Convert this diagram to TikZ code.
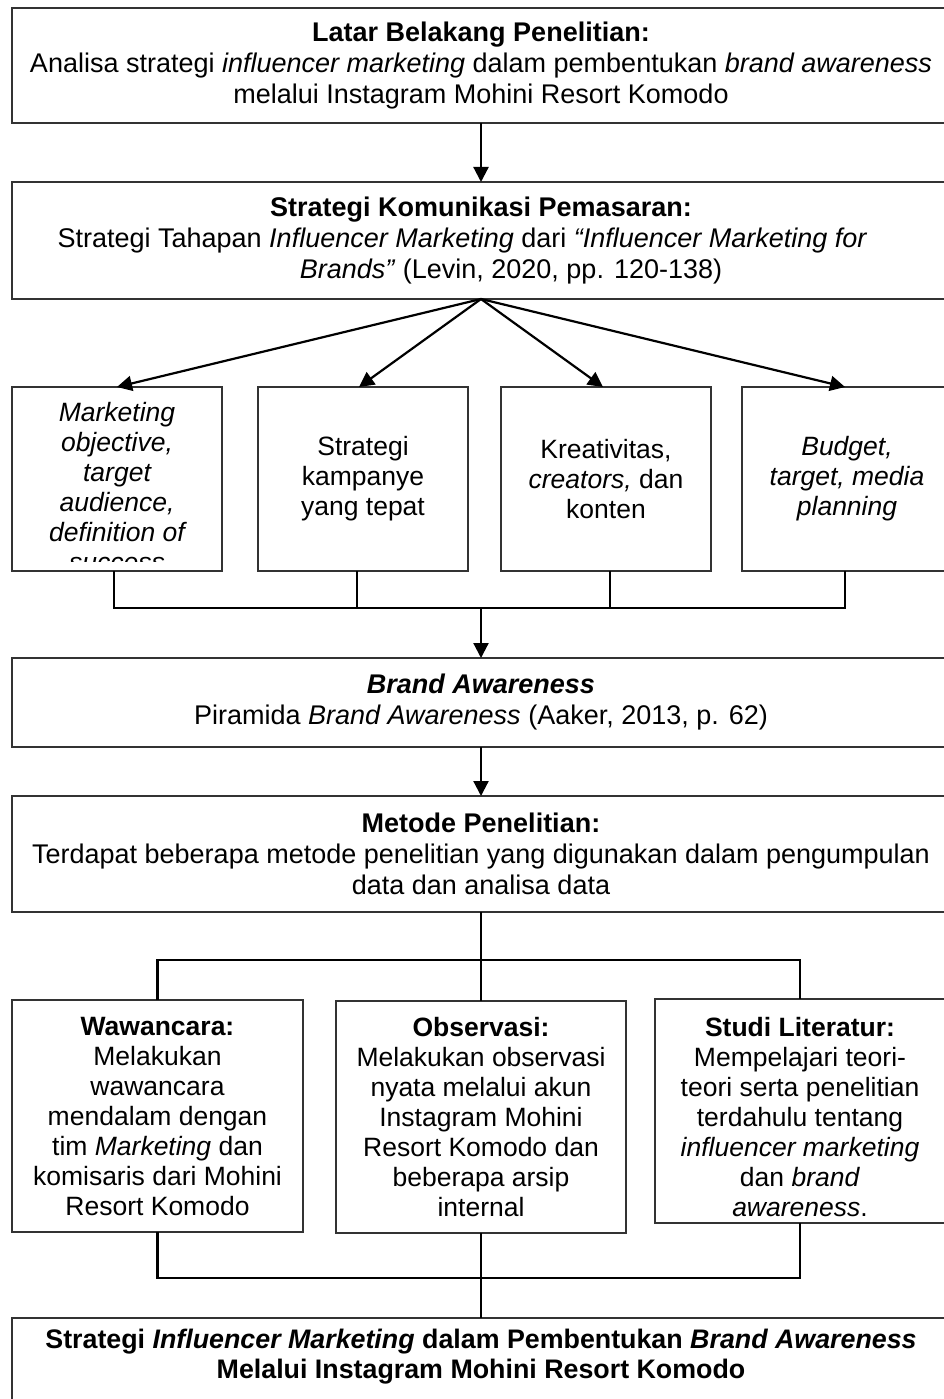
\documentclass[tikz,border=0pt]{standalone}
\usepackage{fontspec}
\setmainfont{Liberation Sans}
\usetikzlibrary{arrows.meta}
\begin{document}
\begin{tikzpicture}[x=1pt,y=-1pt,
  box/.style={draw=black!80, line width=1.3pt, inner sep=0pt, outer sep=0pt, align=center,
    font=\fontsize{26.5}{30}\selectfont},
  widebox/.style={box, draw=none, minimum width=938, font=\fontsize{27}{31}\selectfont},
  border/.style={draw=black!80, line width=1.3pt},
  txt/.style={inner sep=0pt, outer sep=0pt, align=center, font=\fontsize{26.5}{30}\selectfont},
  conn/.style={line width=2.2pt, black},
  arr/.style={conn, -{Triangle[width=15pt,length=15pt]}}
]
\useasboundingbox (0,0) rectangle (944,1399);
\clip (0,0) rectangle (944,1399);

% boxes
\node[widebox, minimum height=115] (b1) at (481,65.5)
  {\textbf{Latar Belakang Penelitian:}\\
   Analisa strategi \textit{influencer marketing} dalam pembentukan \textit{brand awareness}\\
   melalui Instagram Mohini Resort Komodo};

\node[widebox, minimum height=117] (b2) at (481,240.5)
  {\textbf{Strategi Komunikasi Pemasaran:}\\
   Strategi Tahapan \textit{Influencer Marketing} dari \textit{“Influencer Marketing for}\mbox{}\hspace{37pt}\mbox{}\\
   \mbox{}\hspace{60pt}\textit{Brands”} (Levin, 2020, pp. 120-138)};

\node[box, minimum width=210, minimum height=184] (ba) at (117,479) {};
\begin{scope}
  \clip (13,388) rectangle (221,561);
  \node[txt, anchor=north, font=\fontsize{26.5}{30}\selectfont\itshape] (atext) at (117,402)
    {Marketing\\objective,\\target\\audience,\\definition of\\success};
\end{scope}
\node[box, minimum width=210, minimum height=184] (bb) at (363,479)
  {Strategi\\kampanye\\yang tepat};
\node[box, minimum width=210, minimum height=184] (bc) at (606,479)
  {Kreativitas,\\\textit{creators,} dan\\konten};
\node[box, draw=none, minimum width=210, minimum height=184, font=\fontsize{26.5}{30}\selectfont\itshape] (bd) at (847,479)
  {Budget,\\target, media\\planning};

\node[widebox, minimum height=89] (b3) at (481,702.5)
  {\textbf{\textit{Brand Awareness}}\\
   Piramida \textit{Brand Awareness} (Aaker, 2013, p. 62)};

\node[widebox, minimum height=116] (b4) at (481,854)
  {\textbf{Metode Penelitian:}\\
   Terdapat beberapa metode penelitian yang digunakan dalam pengumpulan\\
   data dan analisa data};

\node[box, minimum width=291, minimum height=232] (waw) at (157.5,1116)
  {\textbf{Wawancara:}\\Melakukan\\wawancara\\mendalam dengan\\tim \textit{Marketing} dan\\komisaris dari Mohini\\Resort Komodo};
\node[box, minimum width=290, minimum height=232] (obs) at (481,1117)
  {\textbf{Observasi:}\\Melakukan observasi\\nyata melalui akun\\Instagram Mohini\\Resort Komodo dan\\beberapa arsip\\internal};
\node[box, draw=none, minimum width=290, minimum height=224] (stu) at (800,1111)
  {\rule{0pt}{31.5pt}\textbf{Studi Literatur:}\\Mempelajari teori-\\teori serta penelitian\\terdahulu tentang\\\textit{influencer marketing}\\dan \textit{brand}\\\textit{awareness}.};

\node[widebox, minimum height=112] (fin) at (481,1374) {};
\node[txt, font=\fontsize{26.8}{30}\selectfont] (fintext) at (481,1357)
  {\textbf{Strategi \textit{Influencer Marketing} dalam Pembentukan \textit{Brand Awareness}}\\
   \textbf{Melalui Instagram Mohini Resort Komodo}};

% borders of boxes that run past the right edge (open on the right)
\foreach \n in {b1,b2,b3,b4,bd,stu}
  \draw[border] (\n.north -| 944,0) -- (\n.north west) -- (\n.south west) -- (\n.south -| 944,0);
\draw[border] (fin.north -| 944,0) -- (fin.north west) -- (fin.south west);

% connectors
\draw[arr] (b1.south) -- (b2.north);
\draw[arr] (b2.south) -- (ba.north);
\draw[arr] (b2.south) -- ([xshift=-4pt]bb.north);
\draw[arr] (b2.south) -- ([xshift=-3pt]bc.north);
\draw[arr] (b2.south) -- ([xshift=-2pt]bd.north);

\coordinate (j1) at (481,608);
\draw[conn] ([xshift=-3pt]ba.south) |- (j1) -| ([xshift=-2pt]bd.south);
\draw[conn] ([xshift=-6pt]bb.south) -- ([xshift=-6pt]bb.south |- j1);
\draw[conn] ([xshift=4pt]bc.south) -- ([xshift=4pt]bc.south |- j1);
\draw[arr] (j1) -- (b3.north);
\draw[arr] (b3.south) -- (b4.north);

\coordinate (j2) at (481,960);
\draw[conn] (b4.south) -- (obs.north);
\draw[conn] (waw.north) |- (j2) -| (stu.north);

\coordinate (j3) at (481,1278);
\draw[conn] (waw.south) |- (j3) -| (stu.south);
\draw[conn] (obs.south) -- (fin.north);
\end{tikzpicture}
\end{document}
